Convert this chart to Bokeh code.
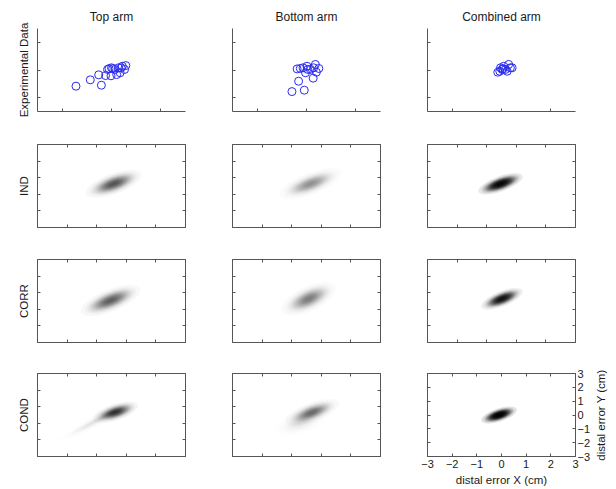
import math
from bokeh.plotting import figure
from bokeh.layouts import gridplot
from bokeh.models import LinearAxis, FixedTicker, Range1d
from bokeh.embed import file_html
from bokeh.resources import INLINE

# ---------------- data ----------------
col_titles = ["Top arm", "Bottom arm", "Combined arm"]
row_labels = ["Experimental Data", "IND", "CORR", "COND"]
x_label = "distal error X (cm)"
y_label = "distal error Y (cm)"

top_x = [-1.44, -0.86, -0.52, -0.41, -0.24, -0.16, -0.02, 0.00, 0.14, 0.21, 0.28, 0.35, 0.39, 0.44, 0.53, 0.58, -0.10, 0.05]
top_y = [-1.17, -0.71, -0.35, -1.10, -0.40, 0.04, -0.42, 0.16, 0.04, -0.33, 0.16, -0.20, 0.16, 0.27, 0.04, 0.32, 0.10, 0.10]

bottom_x = [-0.59, -0.32, -0.09, 0.27, -0.38, -0.25, -0.14, -0.04, 0.02, 0.05, 0.16, 0.36, 0.40, 0.50, 0.29]
bottom_y = [-1.56, -0.81, -1.46, -0.59, 0.08, 0.11, 0.16, -0.20, 0.27, 0.04, 0.04, 0.40, -0.16, 0.11, 0.16]

comb_x = [-0.15, -0.04, 0.02, 0.09, 0.23, 0.29, 0.36, 0.16, -0.07, 0.43, 0.06]
comb_y = [-0.16, 0.16, 0.04, 0.27, -0.09, 0.40, 0.16, 0.04, -0.09, 0.16, 0.08]

exp_x = [top_x, bottom_x, comb_x]
exp_y = [top_y, bottom_y, comb_y]

# simulated error clouds (one entry per cloud component)
cloud_row = [1, 1, 1, 2, 2, 2, 3, 3, 3, 3, 3]
cloud_col = [0, 1, 2, 0, 1, 2, 0, 0, 1, 1, 2]
cloud_x = [0.09, 0.16, -0.04, -0.04, 0.09, 0.02, 0.16, -0.70, 0.23, -0.20, -0.10]
cloud_y = [0.16, 0.16, 0.16, 0.04, 0.16, 0.16, 0.20, -0.50, 0.20, -0.50, 0.00]
cloud_len = [2.4, 2.7, 1.9, 2.6, 2.4, 1.8, 1.9, 3.4, 2.3, 2.4, 1.5]
cloud_thick = [1.5, 1.6, 1.1, 1.6, 1.8, 1.1, 1.2, 0.9, 1.4, 1.8, 0.95]
cloud_angle = [20, 21, 20, 22, 25, 22, 18, 28, 20, 20, 18]
cloud_dark = [0.62, 0.40, 0.95, 0.58, 0.48, 0.90, 0.75, 0.15, 0.55, 0.12, 0.98]

tick_vals = [-3, -2, -1, 0, 1, 2, 3]
tick_text = ["\u22123", "\u22122", "\u22121", "0", "1", "2", "3"]

# ---------------- style ----------------
W = [208, 195, 192]
H = [127, 115, 114, 132]
ML = [37, 24, 24]
MR = [23, 23, 20]
MT = [28, 17, 17, 17]
MB = [16, 15, 14, 32]
AX = "#555555"
TXT = "#1a1a1a"
FONT = "Liberation Sans"
N_LAYERS = 32


def style_axis(ax, ticks, labels=False):
    ax.ticker = FixedTicker(ticks=ticks)
    ax.axis_line_color = AX
    ax.major_tick_line_color = AX
    ax.major_tick_in = 3
    ax.major_tick_out = 0
    ax.minor_tick_line_color = None
    ax.major_label_standoff = 3
    ax.axis_label_text_font = FONT
    ax.axis_label_text_font_style = "normal"
    ax.axis_label_text_color = TXT
    ax.axis_label_text_font_size = "11.5px"
    ax.major_label_text_font = FONT
    if labels:
        ax.major_label_text_color = TXT
        ax.major_label_text_font_size = "11px"
        ax.major_label_overrides = {v: t for v, t in zip(tick_vals, tick_text)}
    else:
        ax.major_label_text_color = None
        ax.major_label_text_font_size = "1px"
        ax.major_label_standoff = 0


rows = []
for r in range(4):
    row_figs = []
    for c in range(3):
        kw = dict(width=W[c], height=H[r], x_range=Range1d(-3, 3), y_range=Range1d(-3, 3),
                  output_backend="svg", toolbar_location=None, tools="")
        if r == 0:
            kw["title"] = col_titles[c]
        p = figure(**kw)
        p.min_border_left = ML[c]
        p.min_border_right = MR[c]
        p.min_border_top = MT[r]
        p.min_border_bottom = MB[r]
        p.background_fill_color = "white"
        p.border_fill_color = "white"
        p.xgrid.grid_line_color = None
        p.ygrid.grid_line_color = None
        bottom_ax = p.below[0]
        left_ax = p.left[0]
        if r == 0:
            p.title.align = "center"
            p.title.text_font = FONT
            p.title.text_font_size = "12px"
            p.title.text_font_style = "normal"
            p.title.text_color = TXT
            p.title.standoff = 9
            p.outline_line_color = None
            style_axis(bottom_ax, [-2, 0, 2])
            style_axis(left_ax, [-2, 0, 2])
            p.scatter(exp_x[c], exp_y[c], marker="circle", size=8, fill_color=None,
                      line_color="#2a2aee", line_width=1)
        else:
            last = (r == 3 and c == 2)
            ticks = tick_vals if last else [-1.8, -0.6, 0.6, 1.8]
            p.outline_line_color = AX
            style_axis(bottom_ax, ticks, labels=last)
            style_axis(left_ax, ticks)
            ra = LinearAxis()
            style_axis(ra, ticks, labels=last)
            ta = LinearAxis()
            style_axis(ta, ticks)
            p.add_layout(ra, "right")
            p.add_layout(ta, "above")
            if last:
                bottom_ax.axis_label = x_label
                bottom_ax.axis_label_standoff = 3
                ra.major_label_standoff = 2
            # clouds
            xs, ys, ws, hs, angs, alphas = [], [], [], [], [], []
            for i in range(len(cloud_row)):
                if cloud_row[i] != r or cloud_col[i] != c:
                    continue
                a = 1 - (1 - cloud_dark[i]) ** (1.0 / N_LAYERS)
                for k in range(N_LAYERS):
                    f = math.sqrt(math.log(N_LAYERS / (k + 0.5)) / math.log(2 * N_LAYERS))
                    xs.append(cloud_x[i])
                    ys.append(cloud_y[i])
                    ws.append(cloud_len[i] * f)
                    hs.append(cloud_thick[i] * f)
                    angs.append(math.radians(cloud_angle[i]))
                    alphas.append(a)
            p.ellipse(x=xs, y=ys, width=ws, height=hs, angle=angs, fill_color="black",
                      fill_alpha=alphas, line_color=None)
        if c == 0:
            left_ax.axis_label = row_labels[r]
            left_ax.axis_label_standoff = 8
        row_figs.append(p)
    rows.append(row_figs)

# narrow strip carrying the y-axis title of the bottom-right panel (reads bottom-to-top)
lab = figure(width=19, height=H[3], x_range=Range1d(0, 1), y_range=Range1d(-3, 3),
             output_backend="svg", toolbar_location=None, tools="", x_axis_location=None)
lab.min_border_left = 16
lab.min_border_right = 2
lab.min_border_top = MT[3]
lab.min_border_bottom = MB[3]
lab.outline_line_color = None
lab.background_fill_color = "white"
lab.border_fill_color = "white"
lab.xgrid.grid_line_color = None
lab.ygrid.grid_line_color = None
ly = lab.left[0]
ly.axis_line_color = None
ly.major_tick_line_color = None
ly.minor_tick_line_color = None
ly.major_label_text_color = None
ly.major_label_text_font_size = "1px"
ly.major_label_standoff = 0
ly.axis_label = y_label
ly.axis_label_standoff = 0
ly.axis_label_text_font = FONT
ly.axis_label_text_font_style = "normal"
ly.axis_label_text_color = TXT
ly.axis_label_text_font_size = "11.5px"

for r in range(3):
    rows[r].append(None)
rows[3].append(lab)

grid = gridplot(rows, toolbar_location=None)
open("out.html", "w").write(file_html(grid, INLINE))
